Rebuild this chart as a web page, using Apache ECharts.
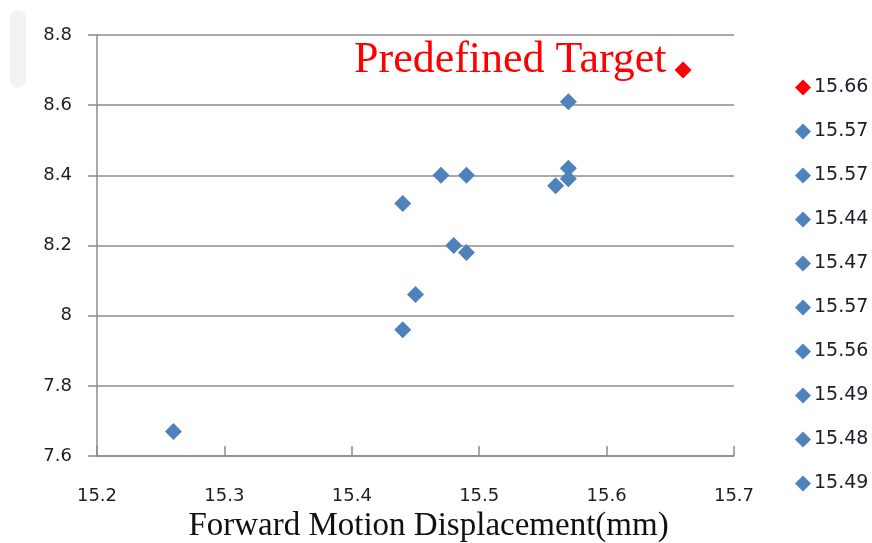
<!DOCTYPE html>
<html>
<head>
<meta charset="utf-8">
<script src="https://cdn.jsdelivr.net/npm/echarts@6/dist/echarts.min.js"></script>
<style>
  html, body { margin: 0; padding: 0; background: #ffffff; }
  #chart { width: 872px; height: 543px; }
</style>
</head>
<body>
<div id="chart"></div>
<script>
// Target position (x: displacement in mm, y: second coordinate)
const targetX = 15.66;
const targetY = 8.70;

// Measured points, in legend order
const measuredX = [15.57, 15.57, 15.44, 15.47, 15.57, 15.56, 15.49, 15.48, 15.49, 15.45, 15.44, 15.26];
const measuredY = [8.61, 8.42, 8.32, 8.40, 8.39, 8.37, 8.40, 8.20, 8.18, 8.06, 7.96, 7.67];

// Axis ranges and steps
const xRange = [15.2, 15.7];
const xStep = 0.1;
const yRange = [7.6, 8.8];
const yStep = 0.2;

const annotationText = 'Predefined Target';
const xAxisTitle = 'Forward Motion Displacement(mm)';
const legendVisibleCount = 10;

const blue = '#4F81BD';
const red = '#FF0000';
const gridGray = '#8c8c8c';
const labelColor = '#1c1c2a';

// Each point is its own series so the legend lists one entry per point.
// Names carry a '#index' suffix to keep them unique; the legend hides it.
const series = [];
series.push({
  name: String(targetX.toFixed(2)) + '#0',
  type: 'scatter',
  symbol: 'diamond',
  symbolSize: 17,
  itemStyle: { color: red, opacity: 1 },
  data: [[targetX, targetY]],
  label: {
    show: true,
    formatter: annotationText,
    position: 'left',
    distance: 8,
    offset: [0, -10],
    color: red,
    fontFamily: '"Liberation Serif", "DejaVu Serif", serif',
    fontSize: 44
  },
  z: 5
});
measuredX.forEach(function (x, i) {
  series.push({
    name: x.toFixed(2) + '#' + (i + 1),
    type: 'scatter',
    symbol: 'diamond',
    symbolSize: 17,
    itemStyle: { color: blue, opacity: 1 },
    data: [[x, measuredY[i]]]
  });
});

const legendNames = series.slice(0, legendVisibleCount).map(function (s) { return s.name; });

const chart = echarts.init(document.getElementById('chart'));
chart.setOption({
  backgroundColor: '#ffffff',
  animation: false,
  grid: { left: 97, right: 138, top: 35, bottom: 87, containLabel: false, outerBoundsMode: 'none' },
  legend: {
    data: legendNames,
    orient: 'vertical',
    left: 790,
    top: 73,
    itemWidth: 16,
    itemHeight: 16,
    itemGap: 25,
    icon: 'diamond',
    itemStyle: { opacity: 1 },
    formatter: function (name) { return name.split('#')[0]; },
    textStyle: {
      fontFamily: '"DejaVu Sans", sans-serif',
      fontSize: 19,
      color: labelColor,
      padding: [0, 0, 0, -2]
    }
  },
  xAxis: {
    type: 'value',
    min: xRange[0],
    max: xRange[1],
    interval: xStep,
    name: xAxisTitle,
    nameLocation: 'middle',
    nameGap: 48,
    nameTextStyle: {
      fontFamily: '"Liberation Serif", "DejaVu Serif", serif',
      fontSize: 33,
      color: '#111111',
      padding: [0, 0, 0, 26]
    },
    axisLine: { show: true, lineStyle: { color: gridGray, width: 1.5 } },
    axisTick: { show: true, inside: true, length: 10, lineStyle: { color: gridGray, width: 1.5 } },
    splitLine: { show: false },
    axisLabel: {
      margin: 31,
      fontFamily: '"DejaVu Sans", sans-serif',
      fontSize: 18,
      color: labelColor,
      formatter: function (v) { return String(Math.round(v * 10) / 10); }
    }
  },
  yAxis: {
    type: 'value',
    min: yRange[0],
    max: yRange[1],
    interval: yStep,
    axisLine: { show: true, lineStyle: { color: gridGray, width: 1.5 } },
    axisTick: { show: true, inside: false, length: 9, lineStyle: { color: gridGray, width: 1.5 } },
    splitLine: { show: true, lineStyle: { color: gridGray, width: 1.5 } },
    axisLabel: {
      margin: 25,
      fontFamily: '"DejaVu Sans", sans-serif',
      fontSize: 18,
      color: labelColor,
      formatter: function (v) { return String(Math.round(v * 10) / 10); }
    }
  },
  graphic: [{
    type: 'rect',
    left: 10,
    top: 10,
    shape: { width: 16, height: 78, r: 8 },
    style: { fill: '#f3f3f3' },
    silent: true
  }],
  series: series
});
</script>
</body>
</html>
